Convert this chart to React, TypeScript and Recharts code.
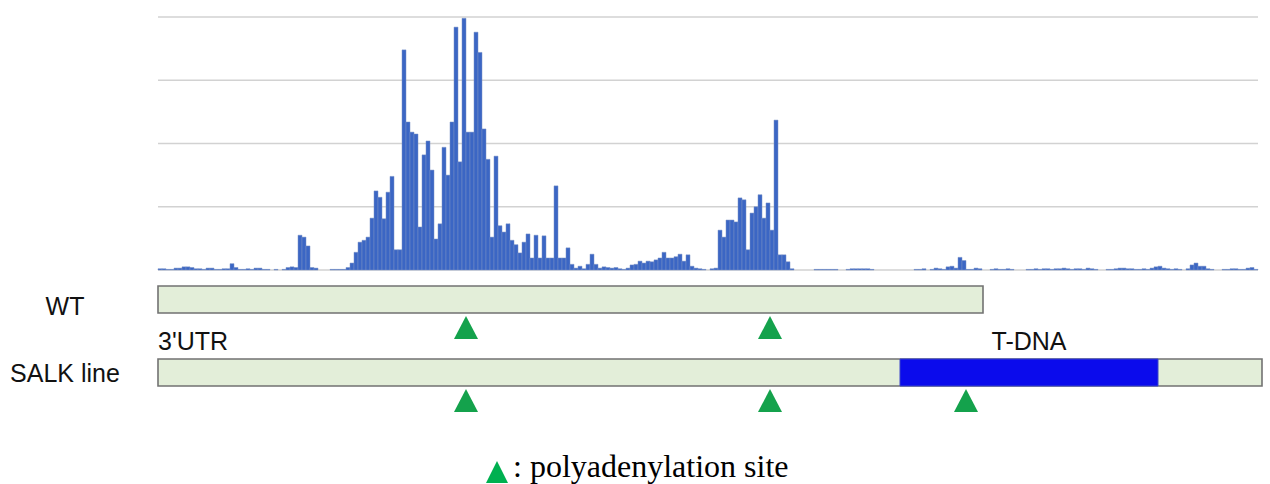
import React from 'react';
import {
  BarChart,
  Bar,
  XAxis,
  YAxis,
  CartesianGrid,
  ComposedChart,
  ReferenceArea,
  Scatter,
  Label,
} from 'recharts';

// read coverage per genomic bin (arbitrary units, gridlines every 100)
const coverage: number[] = [
  2, 2, 1, 1, 3, 3, 5, 5, 4, 2,
  2, 1, 3, 3, 1, 1, 2, 2, 10, 4,
  1, 1, 2, 1, 3, 3, 1, 1, 0, 1,
  0, 1, 4, 5, 4, 55, 52, 38, 4, 3,
  0, 0, 0, 1, 1, 1, 1, 4, 11, 28,
  44, 47, 52, 82, 125, 115, 81, 123, 148, 32,
  32, 348, 234, 218, 215, 68, 182, 204, 158, 49,
  73, 194, 150, 234, 384, 171, 398, 218, 218, 376,
  344, 223, 175, 52, 180, 70, 60, 73, 47, 40,
  27, 44, 57, 19, 55, 19, 54, 19, 19, 133,
  19, 19, 35, 9, 3, 6, 2, 9, 25, 9,
  3, 5, 4, 3, 4, 2, 1, 3, 8, 9,
  14, 11, 14, 13, 16, 19, 28, 19, 19, 21,
  25, 14, 24, 6, 3, 2, 1, 0, 2, 3,
  63, 52, 79, 79, 76, 114, 111, 32, 90, 100,
  119, 82, 106, 63, 237, 24, 24, 13, 2, 0,
  0, 0, 0, 0, 1, 1, 1, 1, 1, 1,
  0, 0, 1, 2, 2, 2, 2, 2, 1, 0,
  0, 0, 0, 0, 0, 0, 0, 0, 0, 1,
  1, 2, 0, 1, 3, 2, 1, 5, 6, 3,
  20, 15, 1, 1, 3, 2, 0, 0, 1, 2,
  1, 1, 2, 1, 0, 0, 0, 1, 1, 2,
  1, 2, 2, 1, 2, 2, 3, 2, 1, 2,
  2, 1, 3, 2, 1, 0, 0, 1, 1, 2,
  3, 3, 2, 2, 1, 1, 2, 1, 3, 5,
  6, 3, 2, 1, 2, 1, 0, 2, 8, 11,
  6, 6, 2, 1, 0, 0, 1, 1, 2, 2,
  1, 1, 3, 4, 1,
];

const yTicks = [0, 100, 200, 300, 400];
const binCount = coverage.length;

// gene model tracks (positions in bin units)
const trackNames = ['WT', 'SALK line'];
const trackRows = [0, 1];
const utrSegments = [
  { row: 0, start: 0, end: 206.25 },
  { row: 1, start: 0, end: 276 },
];
const tdnaSegments = [{ row: 1, start: 185.5, end: 250 }];
const polyASites = [
  { row: 0, pos: 77 },
  { row: 0, pos: 153 },
  { row: 1, pos: 77 },
  { row: 1, pos: 153 },
  { row: 1, pos: 202 },
];

const coverageData = coverage.map((v, i) => ({ bin: i, reads: v }));

const BOX_HALF = 0.185;
const SITE_OFFSET = 0.385;
const trackLabelDy: Record<number, number> = { 0: 15.5, 1: 9.5 };

const siteData = polyASites.map((s) => ({ pos: s.pos, y: s.row + SITE_OFFSET }));

const SANS = '"Liberation Sans", Arial, Helvetica, sans-serif';
const SERIF = '"Liberation Serif", "Times New Roman", serif';

const TriangleShape = (props: any) => {
  const { cx, cy } = props;
  const w = 24;
  const h = 23;
  return (
    <polygon
      points={`${cx - w / 2},${cy + h / 2} ${cx},${cy - h / 2} ${cx + w / 2},${cy + h / 2}`}
      fill="#14a24c"
    />
  );
};

const TrackTick = (props: any) => {
  const { y, payload } = props;
  const v = payload.value as number;
  return (
    <text
      x={65}
      y={y + (trackLabelDy[v] ?? 0)}
      textAnchor="middle"
      fontSize={25}
      fontFamily={SANS}
      fill="#111"
    >
      {trackNames[v]}
    </text>
  );
};

export default function App() {
  return (
    <div
      style={{
        position: 'absolute',
        left: 0,
        top: 0,
        width: 1270,
        height: 484,
        background: '#fff',
        overflow: 'hidden',
      }}
    >
      <div style={{ position: 'absolute', left: 0, top: 0 }}>
        <BarChart
          width={1270}
          height={280}
          data={coverageData}
          margin={{ top: 17, right: 12, left: 158, bottom: 10 }}
          barCategoryGap={0}
          barGap={0}
        >
          <CartesianGrid vertical={false} stroke="#d2d2d2" strokeWidth={1.5} />
          <XAxis dataKey="bin" hide />
          <YAxis hide domain={[0, 400]} ticks={yTicks} />
          <Bar
            dataKey="reads"
            fill="#3b66c4"
            stroke="#7890c4"
            strokeWidth={0.5}
            isAnimationActive={false}
          />
        </BarChart>
      </div>

      <div style={{ position: 'absolute', left: 0, top: 263 }}>
        <ComposedChart
          width={1270}
          height={219}
          margin={{ top: 0, right: 12, left: 0, bottom: 0 }}
        >
          <XAxis type="number" dataKey="pos" domain={[0, binCount]} hide allowDataOverflow />
          <YAxis
            type="number"
            dataKey="y"
            domain={[-0.5, 2.5]}
            ticks={trackRows}
            reversed
            width={158}
            axisLine={false}
            tickLine={false}
            tick={<TrackTick />}
            allowDataOverflow
          />
          {utrSegments.map((s, i) => (
            <ReferenceArea
              key={`utr-${i}`}
              x1={s.start}
              x2={s.end}
              y1={s.row - BOX_HALF}
              y2={s.row + BOX_HALF}
              fill="#e3eed9"
              fillOpacity={1}
              stroke="#727272"
              strokeWidth={1.6}
              ifOverflow="visible"
            >
              {s.row === 1 ? (
                <Label
                  content={(p: any) => (
                    <text
                      x={p.viewBox.x}
                      y={p.viewBox.y - 9}
                      fontSize={25}
                      fontFamily={SANS}
                      fill="#111"
                    >
                      3'UTR
                    </text>
                  )}
                />
              ) : null}
            </ReferenceArea>
          ))}
          {tdnaSegments.map((s, i) => (
            <ReferenceArea
              key={`tdna-${i}`}
              x1={s.start}
              x2={s.end}
              y1={s.row - BOX_HALF}
              y2={s.row + BOX_HALF}
              fill="#0b0bec"
              fillOpacity={1}
              stroke="#3a44c8"
              strokeWidth={1}
              ifOverflow="visible"
            >
              <Label
                content={(p: any) => (
                  <text
                    x={p.viewBox.x + p.viewBox.width / 2}
                    y={p.viewBox.y - 9}
                    textAnchor="middle"
                    fontSize={25}
                    fontFamily={SANS}
                    fill="#111"
                  >
                    T-DNA
                  </text>
                )}
              />
            </ReferenceArea>
          ))}
          <Scatter
            name="polyadenylation site"
            data={siteData}
            shape={<TriangleShape />}
            isAnimationActive={false}
          />
        </ComposedChart>
      </div>

      <svg
        width={1270}
        height={44}
        style={{ position: 'absolute', left: 0, top: 440 }}
      >
        <polygon points="486,43 497,21 508,43" fill="#00b050" />
        <text x={513} y={37} fontSize={32} fontFamily={SERIF} fill="#000">
          : polyadenylation site
        </text>
      </svg>
    </div>
  );
}
